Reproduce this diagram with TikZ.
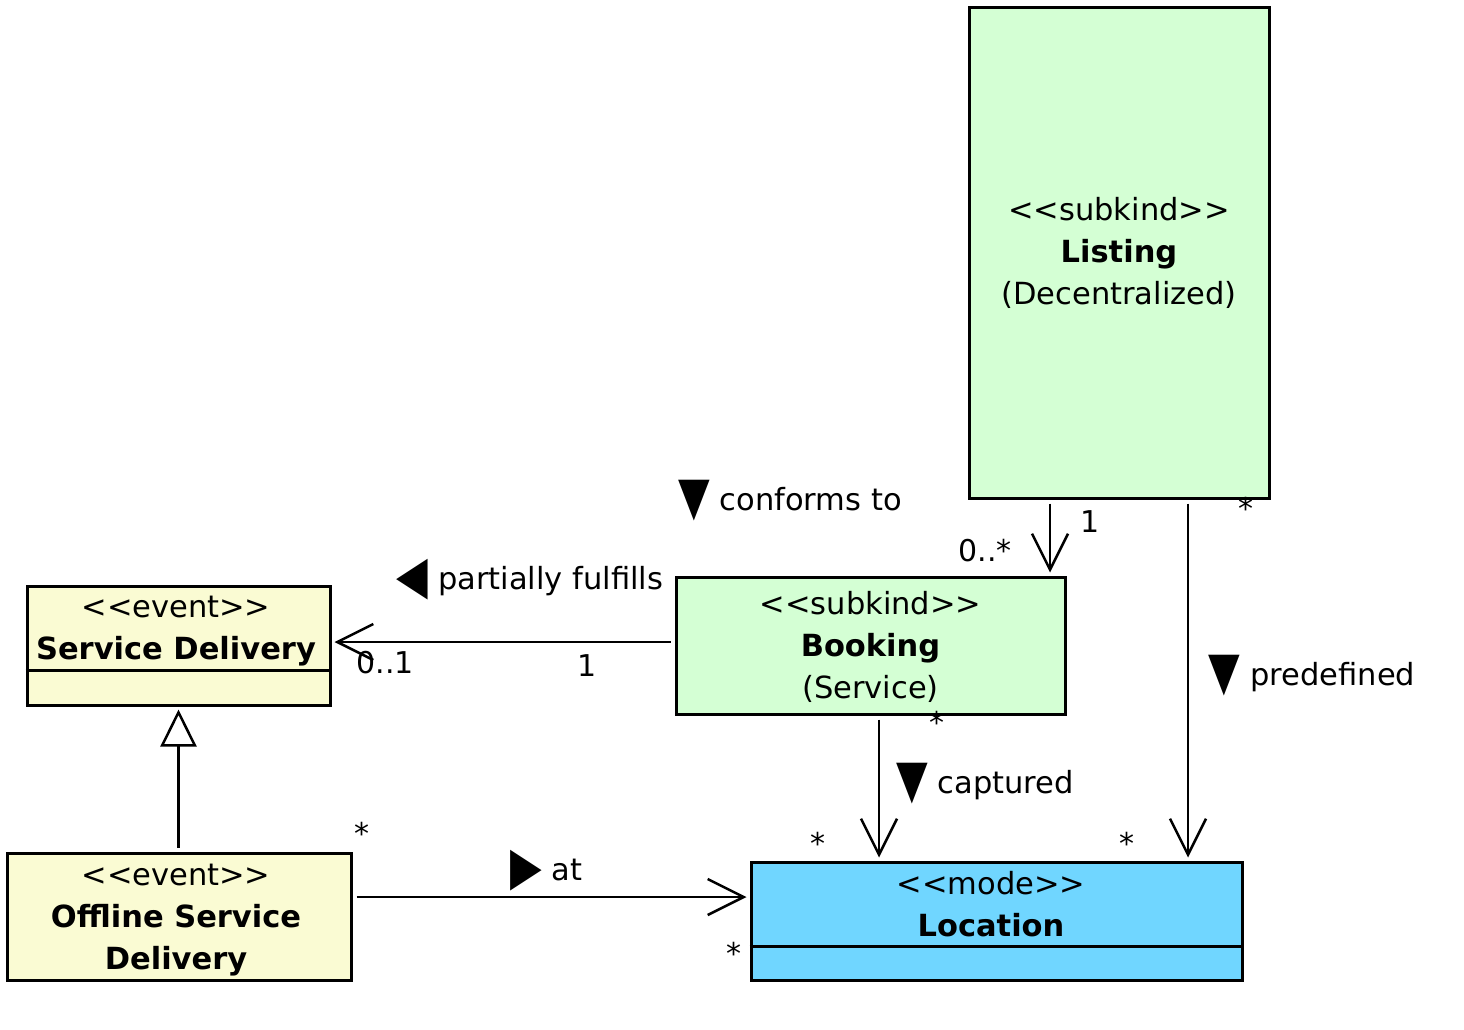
\documentclass[tikz,border=0pt]{standalone}
\usepackage{fontspec}
\usepackage{graphicx}
\setmainfont{DejaVu Sans}
\usetikzlibrary{arrows.meta, positioning}

\definecolor{eventyellow}{RGB}{250,251,211}
\definecolor{subkindgreen}{RGB}{212,255,212}
\definecolor{modeblue}{RGB}{112,214,255}

\newcommand{\stereo}[1]{\textless{}\textless{}#1\textgreater{}\textgreater{}}
\newcommand{\dirtri}[1]{\raisebox{-0.25ex}{\scalebox{1.35}[1.75]{#1}}}

\begin{document}
\begin{tikzpicture}[x=1pt, y=-1pt,
        classbox/.style={draw, line width=3pt, inner sep=0pt},
        eventclass/.style={classbox, fill=eventyellow},
        subkindclass/.style={classbox, fill=subkindgreen},
        modeclass/.style={classbox, fill=modeblue},
        txt/.style={font=\fontsize{30.5}{42}\selectfont, align=center, inner sep=0pt},
        mult/.style={font=\fontsize{30}{32}\selectfont, inner sep=0pt},
        assoc/.style={line width=2.5pt, shorten <=4pt, shorten >=3pt,
            -{Straight Barb[length=36pt, width=36pt, line width=2.5pt]}},
        gen/.style={line width=2.5pt, shorten <=4pt, shorten >=3pt,
            -{Triangle[open, fill=white, length=37pt, width=36pt, line width=2.5pt]}}
    ]
        \useasboundingbox (0,0) rectangle (1464,1029);

        % Classes
        \node[subkindclass, minimum width=300pt, minimum height=491pt] (listing) at (1119,252.5) {};
        \node[txt] (listingtxt) at (1119,253) {\stereo{subkind}\\\textbf{Listing}\\(Decentralized)};

        \node[subkindclass, minimum width=389pt, minimum height=137pt] (booking) at (870.5,645.5) {};
        \node[txt] (bookingtxt) at (870.5,647) {\stereo{subkind}\\\textbf{Booking}\\(Service)};

        \node[eventclass, minimum width=303pt, minimum height=119pt] (sd) at (178.5,645.5) {};
        \node[txt] (sdtxt) at (176,631) {\stereo{event}\\\textbf{Service Delivery}};
        \draw[line width=3pt] ([yshift=36pt]sd.south west) -- ([yshift=36pt]sd.south east);

        \node[eventclass, minimum width=344pt, minimum height=127pt] (osd) at (179,916.5) {};
        \node[txt] (osdtxt) at (176,920) {\stereo{event}\\\textbf{Offline Service}\\\textbf{Delivery}};

        \node[modeclass, minimum width=491pt, minimum height=118pt] (location) at (996.5,921) {};
        \node[txt] (locationtxt) at (991,904) {\stereo{mode}\\\textbf{Location}};
        \draw[line width=3pt] ([yshift=35pt]location.south west) -- ([yshift=35pt]location.south east);

        % Associations
        \coordinate (bkW) at ([yshift=3.5pt]booking.west);
        \draw[assoc] (bkW) -- (bkW -| sd.east);
        \node[txt] (fulfills) at (530,580) {\dirtri{◀} partially fulfills};
        \node[mult] (fulfillsA) at (385,663) {0..1};
        \node[mult] (fulfillsB) at (587,666) {1};

        \coordinate (lstA) at ([xshift=-69pt]listing.south);
        \draw[assoc] (lstA) -- (lstA |- booking.north);
        \node[txt] (conforms) at (790,501) {\dirtri{▼} conforms to};
        \node[mult] (conformsA) at (1090,522) {1};
        \node[mult] (conformsB) at (985,551) {0..*};

        \coordinate (lstB) at ([xshift=69pt]listing.south);
        \draw[assoc] (lstB) -- (lstB |- location.north);
        \node[txt] (predefined) at (1312,676) {\dirtri{▼} predefined};
        \node[mult] (predefinedA) at (1246,508) {*};
        \node[mult] (predefinedB) at (1127,843) {*};

        \coordinate (bkS) at ([xshift=8.5pt]booking.south);
        \draw[assoc] (bkS) -- (bkS |- location.north);
        \node[txt] (captured) at (985,784) {\dirtri{▼} captured};
        \node[mult] (capturedA) at (937,722) {*};
        \node[mult] (capturedB) at (818,843) {*};

        \coordinate (osdE) at ([yshift=19.5pt]osd.east);
        \draw[assoc] (osdE) -- (osdE -| location.west);
        \node[txt] (at) at (546,871) {\dirtri{▶} at};
        \node[mult] (atA) at (362,833) {*};
        \node[mult] (atB) at (734,953) {*};

        % Generalization
        \draw[gen] (osd.north -| sd.south) -- (sd.south);
    \end{tikzpicture}
\end{document}
